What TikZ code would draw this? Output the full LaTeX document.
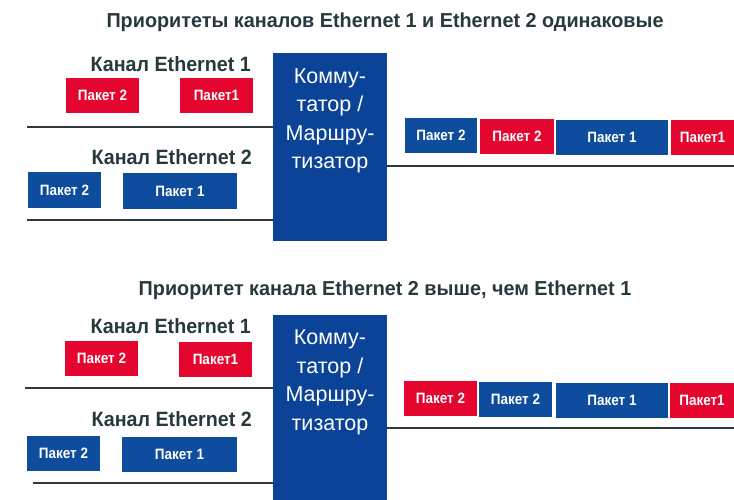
\documentclass[tikz,border=0pt]{standalone}
\usepackage{fontspec}
\setmainfont{Liberation Sans}
\newfontfamily\ttlfont{Liberation Sans Bold}[FakeStretch=0.98]
\newfontfamily\headfont{Liberation Sans Bold}[FakeStretch=0.95]
\newfontfamily\pktfont{Liberation Sans Bold}[FakeStretch=0.9]
\newfontfamily\boxfont{Liberation Sans}
\definecolor{pred}{HTML}{E4062F}
\definecolor{pblue}{HTML}{0E4C9E}
\definecolor{sblue}{HTML}{0B4398}
\definecolor{htext}{HTML}{26393D}
\definecolor{wire}{HTML}{2F3A3A}
\tikzset{
  pkt/.style={minimum height=35pt, inner sep=0pt, text=white, font=\pktfont\fontsize{15}{16}\selectfont},
  redpkt/.style={pkt, fill=pred},
  bluepkt/.style={pkt, fill=pblue},
  switchbox/.style={fill=sblue, inner sep=0pt, minimum width=114pt},
  switchtxt/.style={text=white, align=center, font=\boxfont\fontsize{21.5}{28.5}\selectfont},
  head/.style={text=htext, anchor=east, inner sep=0pt, font=\headfont\fontsize{20.7}{22}\selectfont},
  ttl/.style={text=htext, inner sep=0pt, font=\ttlfont\fontsize{20.2}{22}\selectfont},
  wireline/.style={draw=wire, line width=2.6pt}
}
\begin{document}
\begin{tikzpicture}[x=1pt,y=-1pt]
\useasboundingbox (0,0) rectangle (734,500);
% ---------- top section ----------
\node[ttl] (t1) at (385,22) {Приоритеты каналов Ethernet 1 и Ethernet 2 одинаковые};
\node[switchbox, minimum height=188pt] (sw1) at (330,147) {};
\node[switchtxt] (sw1t) at (330,121) {Комму-\\татор /\\Маршру-\\тизатор};
\node[head] (h11) at (251,64) {Канал Ethernet 1};
\node[head] (h12) at (252,157) {Канал Ethernet 2};
\node[redpkt, minimum width=73pt] (r12) at (102.5,95.5) {Пакет 2};
\node[redpkt, minimum width=73pt] (r11) at (216.5,95.5) {Пакет1};
\node[bluepkt, minimum width=73pt] (b12) at (64.5,190) {Пакет 2};
\node[bluepkt, minimum width=114pt] (b11) at (180,191) {Пакет 1};
\coordinate (a1) at (27,127);
\coordinate (a2) at (27,220);
\coordinate (ao) at (734,166);
\draw[wireline] (a1) -- (a1 -| sw1.west);
\draw[wireline] (a2) -- (a2 -| sw1.west);
\draw[wireline] (ao -| sw1.east) -- (ao);
\node[bluepkt, minimum width=72pt] (o12) at (441,135.5) {Пакет 2};
\node[redpkt, minimum width=74pt] (o13) at (517,136.5) {Пакет 2};
\node[bluepkt, minimum width=112pt] (o14) at (612,137.5) {Пакет 1};
\node[redpkt, minimum width=63pt] (o15) at (702.5,137.5) {Пакет1};
% ---------- bottom section ----------
\node[ttl] (t2) at (385,290) {Приоритет канала Ethernet 2 выше, чем Ethernet 1};
\node[switchbox, minimum height=185pt] (sw2) at (330,407.5) {};
\node[switchtxt] (sw2t) at (330,382.5) {Комму-\\татор /\\Маршру-\\тизатор};
\node[head] (h21) at (251,326) {Канал Ethernet 1};
\node[head] (h22) at (252,419) {Канал Ethernet 2};
\node[redpkt, minimum width=73pt] (r22) at (101.5,358.5) {Пакет 2};
\node[redpkt, minimum width=73pt] (r21) at (215.5,359) {Пакет1};
\node[bluepkt, minimum width=73pt] (b22) at (63.5,453) {Пакет 2};
\node[bluepkt, minimum width=115pt] (b21) at (179.5,454) {Пакет 1};
\coordinate (c1) at (25,388);
\coordinate (c2) at (33,483);
\coordinate (co) at (734,428);
\draw[wireline] (c1) -- (c1 -| sw2.west);
\draw[wireline] (c2) -- (c2 -| sw2.west);
\draw[wireline] (co -| sw2.east) -- (co);
\node[redpkt, minimum width=73pt] (o22) at (440.5,398.5) {Пакет 2};
\node[bluepkt, minimum width=73pt] (o23) at (515.5,399.5) {Пакет 2};
\node[bluepkt, minimum width=112pt] (o24) at (612,400.5) {Пакет 1};
\node[redpkt, minimum width=64pt] (o25) at (702,400.5) {Пакет1};
\end{tikzpicture}
\end{document}
